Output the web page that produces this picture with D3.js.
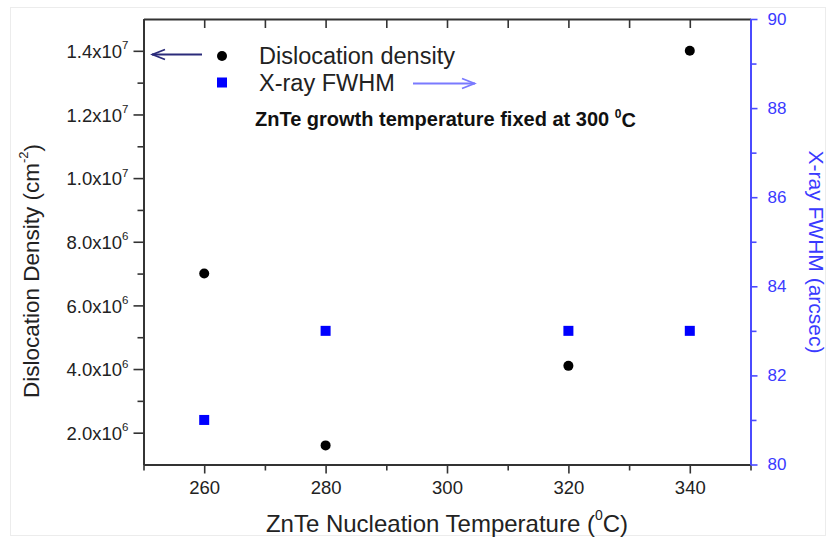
<!DOCTYPE html>
<html>
<head>
<meta charset="utf-8">
<script src="https://cdn.jsdelivr.net/npm/d3@7/dist/d3.min.js"></script>
<style>
  html, body { margin: 0; padding: 0; background: #fff; }
  svg { display: block; font-family: "Liberation Sans", Arial, Helvetica, sans-serif; }
</style>
</head>
<body>
<svg id="chart" width="827" height="540"></svg>
<script>
// Nucleation temperature (°C) of the ZnTe layer
const temps = [260, 280, 320, 340];
// Dislocation density (cm^-2), left axis
const dislocation = [7.0e6, 1.6e6, 4.1e6, 1.4e7];
// X-ray rocking-curve FWHM (arcsec), right axis
const fwhm = [81, 83, 83, 83];

// Axis ticks
const xMajor = [260, 280, 300, 320, 340];
const xMinor = [250, 270, 290, 310, 330, 350];
const leftMajor = [2e6, 4e6, 6e6, 8e6, 1.0e7, 1.2e7, 1.4e7];
const leftMinor = [3e6, 5e6, 7e6, 9e6, 1.1e7, 1.3e7];
const rightMajor = [80, 82, 84, 86, 88, 90];
const rightMinor = [81, 83, 85, 87, 89];

const svg = d3.select("#chart");
const plot = { left: 143.5, right: 750.5, top: 19, bottom: 464.5 };

const x = d3.scaleLinear().domain([250, 350]).range([plot.left, plot.right]);
const yL = d3.scaleLinear().domain([1e6, 1.5e7]).range([plot.bottom, plot.top]);
const yR = d3.scaleLinear().domain([80, 90]).range([plot.bottom, plot.top]);

const axisColor = "#333";
const blueAxis = "#4a4aff";

// faint image border
svg.append("rect").attr("x", 10.5).attr("y", 7.5).attr("width", 815).attr("height", 528)
  .attr("fill", "none").attr("stroke", "#ececec").attr("stroke-width", 1);

function styleAxis(g, color) {
  g.select(".domain").attr("stroke", color).attr("stroke-width", 1.8);
  g.selectAll(".tick line").attr("stroke", color).attr("stroke-width", 1.6);
  g.selectAll(".tick text").attr("fill", color).attr("font-family", null);
}

// bottom axis: minor ticks, then major ticks with labels
const gBm = svg.append("g").attr("transform", `translate(0,${plot.bottom})`)
  .call(d3.axisBottom(x).tickValues(xMinor).tickSize(6).tickSizeOuter(0).tickFormat(""));
styleAxis(gBm, axisColor);
const gB = svg.append("g").attr("transform", `translate(0,${plot.bottom})`)
  .call(d3.axisBottom(x).tickValues(xMajor).tickSize(9).tickSizeOuter(0).tickPadding(7).tickFormat(d3.format("d")));
styleAxis(gB, axisColor);
gB.selectAll(".tick text").attr("font-size", 18.5).attr("fill", "#222");

// top frame with inward ticks
const gT = svg.append("g").attr("transform", `translate(0,${plot.top})`)
  .call(d3.axisBottom(x).tickValues(xMajor.concat(xMinor)).tickSize(9).tickSizeOuter(0).tickFormat(""));
styleAxis(gT, axisColor);

// left axis
const gLm = svg.append("g").attr("transform", `translate(${plot.left},0)`)
  .call(d3.axisLeft(yL).tickValues(leftMinor).tickSize(6).tickSizeOuter(0).tickFormat(""));
styleAxis(gLm, axisColor);
const gL = svg.append("g").attr("transform", `translate(${plot.left},0)`)
  .call(d3.axisLeft(yL).tickValues(leftMajor).tickSize(10).tickSizeOuter(0).tickPadding(5).tickFormat(""));
styleAxis(gL, axisColor);
gL.selectAll(".tick text").each(function(d) {
  const e = Math.floor(Math.log10(d) + 1e-9);
  const m = (d / Math.pow(10, e)).toFixed(1);
  const t = d3.select(this).attr("font-size", 18.5).attr("fill", "#222").attr("dy", "0.36em");
  t.append("tspan").text(m + "x10");
  t.append("tspan").attr("font-size", 11.5).attr("dy", "-0.75em").text(e);
});

// right axis (blue)
const gRm = svg.append("g").attr("transform", `translate(${plot.right},0)`)
  .call(d3.axisRight(yR).tickValues(rightMinor).tickSize(6).tickSizeOuter(0).tickFormat(""));
styleAxis(gRm, blueAxis);
const gR = svg.append("g").attr("transform", `translate(${plot.right},0)`)
  .call(d3.axisRight(yR).tickValues(rightMajor).tickSize(7).tickSizeOuter(0).tickPadding(10).tickFormat(d3.format("d")));
styleAxis(gR, blueAxis);
gR.selectAll(".tick text").attr("font-size", 17).attr("fill", "#3a3aff");

// axis titles
svg.append("text")
  .attr("transform", `translate(${x(300)},532)`)
  .attr("text-anchor", "middle").attr("font-size", 24).attr("fill", "#222")
  .call(t => {
    t.append("tspan").text("ZnTe Nucleation Temperature (");
    t.append("tspan").attr("font-size", 14).attr("dy", "-0.85em").text("0");
    t.append("tspan").attr("dy", "0.5em").text("C)");
  });

svg.append("text")
  .attr("transform", `translate(39,271) rotate(-90)`)
  .attr("text-anchor", "middle").attr("font-size", 22.5).attr("fill", "#222")
  .call(t => {
    t.append("tspan").text("Dislocation Density (cm");
    t.append("tspan").attr("font-size", 13).attr("dy", "-0.85em").text("-2");
    t.append("tspan").attr("dy", "0.55em").text(")");
  });

svg.append("text")
  .attr("transform", `translate(809,252) rotate(90)`)
  .attr("text-anchor", "middle").attr("font-size", 21).attr("fill", "#3a3aff")
  .text("X-ray FWHM (arcsec)");

// data: dislocation density (black circles, left axis)
svg.append("g").selectAll("circle").data(temps.map((t, i) => ({ t, v: dislocation[i] })))
  .join("circle")
  .attr("cx", d => x(d.t)).attr("cy", d => yL(d.v)).attr("r", 5)
  .attr("fill", "#000");

// data: X-ray FWHM (blue squares, right axis)
const sq = 10;
svg.append("g").selectAll("rect").data(temps.map((t, i) => ({ t, v: fwhm[i] })))
  .join("rect")
  .attr("x", d => x(d.t) - sq / 2).attr("y", d => yR(d.v) - sq / 2)
  .attr("width", sq).attr("height", sq)
  .attr("fill", "#0000ff");

// legend
const leg = svg.append("g");
leg.append("circle").attr("cx", 222).attr("cy", 56).attr("r", 5).attr("fill", "#000");
leg.append("rect").attr("x", 222 - sq / 2).attr("y", 82.5 - sq / 2).attr("width", sq).attr("height", sq).attr("fill", "#0000ff");
leg.append("text").attr("x", 259).attr("y", 63.5).attr("font-size", 23.5).attr("fill", "#222").text("Dislocation density");
leg.append("text").attr("x", 259).attr("y", 90.5).attr("font-size", 23.5).attr("fill", "#222").text("X-ray FWHM");

// arrows pointing to each series' axis
const arrowL = "#2b2b7a", arrowR = "#7a7aff";
leg.append("line").attr("x1", 152).attr("x2", 202).attr("y1", 54.5).attr("y2", 54.5)
  .attr("stroke", arrowL).attr("stroke-width", 1.8);
leg.append("path").attr("d", "M165,49.5 L152.5,54.5 L165,59.5")
  .attr("fill", "none").attr("stroke", arrowL).attr("stroke-width", 1.8);
leg.append("line").attr("x1", 413).attr("x2", 475).attr("y1", 83.5).attr("y2", 83.5)
  .attr("stroke", arrowR).attr("stroke-width", 1.8);
leg.append("path").attr("d", "M462,78.5 L474.5,83.5 L462,88.5")
  .attr("fill", "none").attr("stroke", arrowR).attr("stroke-width", 1.8);

// note
svg.append("text").attr("x", 255).attr("y", 126).attr("font-size", 20).attr("font-weight", "bold")
  .attr("fill", "#111")
  .call(t => {
    t.append("tspan").text("ZnTe growth temperature fixed at 300 ");
    t.append("tspan").attr("font-size", 12).attr("dy", "-0.7em").text("0");
    t.append("tspan").attr("dy", "0.45em").text("C");
  });
</script>
</body>
</html>
